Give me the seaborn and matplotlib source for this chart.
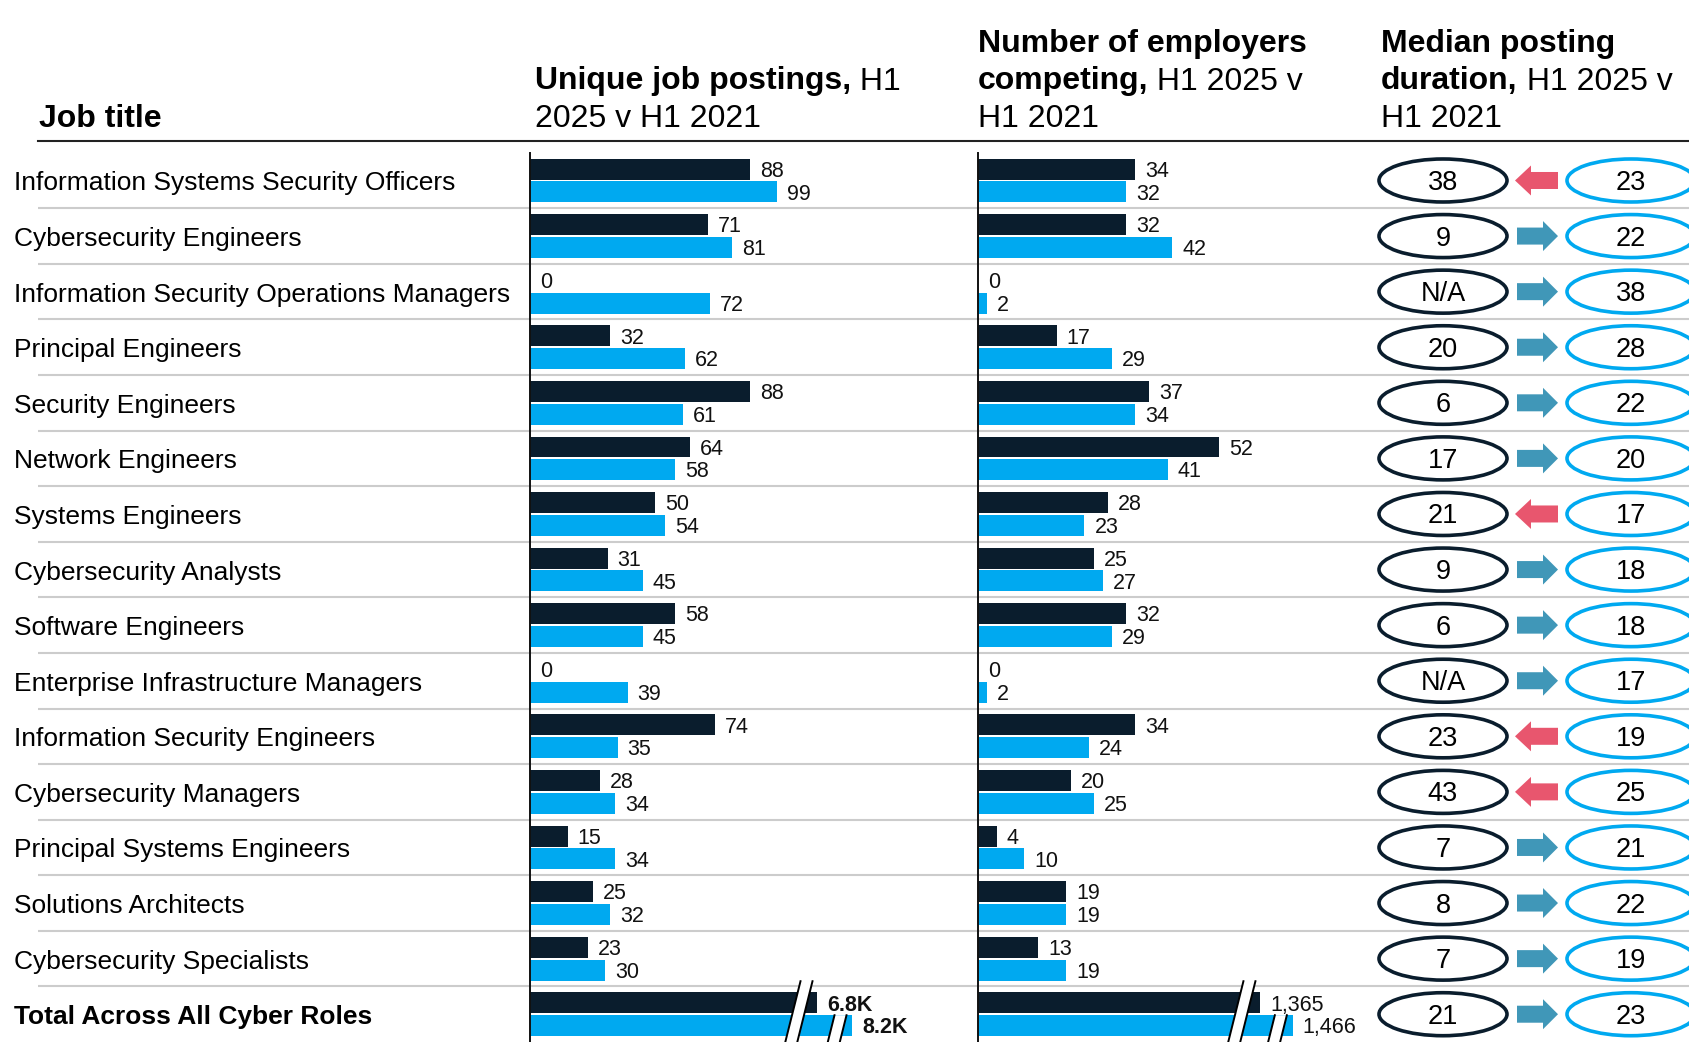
import matplotlib
matplotlib.use("Agg")
import matplotlib.pyplot as plt
import seaborn as sns
import pandas as pd
from matplotlib.patches import Ellipse, Polygon
from matplotlib.lines import Line2D

# ---------------- data ----------------
JOBS = [
    "Information Systems Security Officers",
    "Cybersecurity Engineers",
    "Information Security Operations Managers",
    "Principal Engineers",
    "Security Engineers",
    "Network Engineers",
    "Systems Engineers",
    "Cybersecurity Analysts",
    "Software Engineers",
    "Enterprise Infrastructure Managers",
    "Information Security Engineers",
    "Cybersecurity Managers",
    "Principal Systems Engineers",
    "Solutions Architects",
    "Cybersecurity Specialists",
]
TOTAL_LABEL = "Total Across All Cyber Roles"

POSTINGS_2025 = [88, 71, 0, 32, 88, 64, 50, 31, 58, 0, 74, 28, 15, 25, 23]
POSTINGS_2021 = [99, 81, 72, 62, 61, 58, 54, 45, 45, 39, 35, 34, 34, 32, 30]
EMPLOYERS_2025 = [34, 32, 0, 17, 37, 52, 28, 25, 32, 0, 34, 20, 4, 19, 13]
EMPLOYERS_2021 = [32, 42, 2, 29, 34, 41, 23, 27, 29, 2, 24, 25, 10, 19, 19]
DURATION_2025 = [38, 9, None, 20, 6, 17, 21, 9, 6, None, 23, 43, 7, 8, 7, 21]
DURATION_2021 = [23, 22, 38, 28, 22, 20, 17, 18, 18, 17, 19, 25, 21, 22, 19, 23]

TOTAL_POSTINGS = [6800, 8200]
TOTAL_POSTINGS_LABELS = ["6.8K", "8.2K"]
TOTAL_EMPLOYERS = [1365, 1466]
# length shown on the broken axis for the total row
TOTAL_POSTINGS_BROKEN = [115, 129]
TOTAL_EMPLOYERS_BROKEN = [61, 68]

YEARS = ["H1 2025", "H1 2021"]

# ---------------- style ----------------
DARK = "#0A1D2D"
BLUE = "#00A9F0"
TEAL = "#4097B8"
RED = "#E8566E"
SEP = "#CCCCCC"

plt.rcParams["font.family"] = ["Liberation Sans", "DejaVu Sans"]

W, H = 1689, 1042
fig = plt.figure(figsize=(W / 100, H / 100), dpi=100)
fig.patch.set_facecolor("white")

N = len(JOBS) + 1
ROW_TOP = 152.7
ROW_H = (H - ROW_TOP) / N
ALL_JOBS = JOBS + [TOTAL_LABEL]


def px_rect(x0, y0, x1, y1):
    return [x0 / W, 1 - y1 / H, (x1 - x0) / W, (y1 - y0) / H]


# ---------------- table background axes ----------------
tab = fig.add_axes(px_rect(0, ROW_TOP, W, H))
tab.set_xlim(0, W)
tab.set_ylim(N - 0.5, -0.5)
tab.axis("off")

tab.hlines([k - 0.5 for k in range(1, N)], 38, W, color=SEP, lw=1.5, zorder=1)

LABEL_FS = 19
for i, job in enumerate(ALL_JOBS):
    bold = job == TOTAL_LABEL
    tab.text(14, i + 10 / ROW_H, job, fontsize=LABEL_FS,
             fontweight="bold" if bold else "normal", ha="left", va="baseline",
             color="black")

# ellipses + arrows
EX_25, EX_21, EW, EH = 1443, 1631, 128, 43
for i in range(N):
    d25, d21 = DURATION_2025[i], DURATION_2021[i]
    for cx, col, val in [(EX_25, DARK, d25), (EX_21, BLUE, d21)]:
        tab.add_patch(Ellipse((cx, i), EW, EH / ROW_H, facecolor="white",
                              edgecolor=col, lw=2.6, zorder=3))
        tab.text(cx, i + 9.5 / ROW_H, "N/A" if val is None else str(val),
                 fontsize=19.5, ha="center", va="baseline", color="black", zorder=4)
    bh, hh = 8.5 / ROW_H, 15 / ROW_H
    if d25 is not None and d25 > d21:
        xt, xb, x1 = 1515, 1531, 1558
        pts = [(x1, i - bh), (xb, i - bh), (xb, i - hh), (xt, i), (xb, i + hh),
               (xb, i + bh), (x1, i + bh)]
        col = RED
    else:
        x0, xb, xt = 1517, 1543, 1558
        pts = [(x0, i - bh), (xb, i - bh), (xb, i - hh), (xt, i), (xb, i + hh),
               (xb, i + bh), (x0, i + bh)]
        col = TEAL
    tab.add_patch(Polygon(pts, closed=True, facecolor=col, edgecolor="none", zorder=3))


# ---------------- bar panels ----------------
def bar_panel(x0_px, x1_px, px_per_unit, v25, v21, broken, total_labels, total_bold):
    ax = fig.add_axes(px_rect(x0_px, ROW_TOP, x1_px, H))
    ax.patch.set_alpha(0)
    df = pd.DataFrame({
        "job": ALL_JOBS * 2,
        "year": [YEARS[0]] * N + [YEARS[1]] * N,
        "value": v25 + [broken[0]] + v21 + [broken[1]],
    })
    sns.barplot(data=df, y="job", x="value", hue="year", order=ALL_JOBS,
                hue_order=YEARS, palette=[DARK, BLUE], saturation=1, orient="h",
                width=0.82, gap=0.08, errorbar=None, linewidth=0, legend=False,
                ax=ax, zorder=2)
    ax.set_xlim(0, (x1_px - x0_px) / px_per_unit)
    ax.set_ylim(N - 0.5, -0.5)
    ax.set_xlabel("")
    ax.set_ylabel("")
    ax.set_xticks([])
    ax.set_yticks([])
    for s in ["top", "right", "bottom"]:
        ax.spines[s].set_visible(False)
    ax.spines["left"].set_color("#111111")
    ax.spines["left"].set_linewidth(1.4)

    dy = 0.205
    base = 7.7 / ROW_H
    for i in range(N - 1):
        for v, sgn in [(v25[i], -1), (v21[i], 1)]:
            ax.annotate(str(v), xy=(v, i + sgn * dy + base), xytext=(10, 0),
                        textcoords="offset pixels", ha="left", va="baseline",
                        fontsize=15.5, color="#111111")
    i = N - 1
    for v, lab, sgn in [(broken[0], total_labels[0], -1), (broken[1], total_labels[1], 1)]:
        ax.annotate(lab, xy=(v, i + sgn * dy + base), xytext=(10, 0),
                    textcoords="offset pixels", ha="left", va="baseline",
                    fontsize=15.5, color="#111111",
                    fontweight="bold" if total_bold else "normal")

    # axis-break marks on the total row
    def brk(x_end, y_top_px, y_bot_px, lead_px):
        slope = 0.25
        gap = 12
        xt = x_end - lead_px / px_per_unit
        xb = xt - slope * (y_bot_px - y_top_px) / px_per_unit
        g = gap / px_per_unit
        yt = i + y_top_px / ROW_H
        yb = i + y_bot_px / ROW_H
        ax.add_patch(Polygon([(xt - g / 2, yt), (xt + g / 2, yt), (xb + g / 2, yb),
                              (xb - g / 2, yb)], closed=True, facecolor="white",
                             edgecolor="none", zorder=5, clip_on=False))
        for s in (-1, 1):
            ax.add_line(Line2D([xt + s * g / 2, xb + s * g / 2], [yt, yb],
                               color="black", lw=1.4, zorder=6, clip_on=False))

    brk(broken[0], -33, 27, 11)
    brk(broken[1], 1, 27, 12)
    return ax


bar_panel(530, 960, 2.5, POSTINGS_2025, POSTINGS_2021, TOTAL_POSTINGS_BROKEN,
          TOTAL_POSTINGS_LABELS, True)
bar_panel(978, 1360, 4.63, EMPLOYERS_2025, EMPLOYERS_2021, TOTAL_EMPLOYERS_BROKEN,
          [f"{v:,}" for v in TOTAL_EMPLOYERS], False)

# ---------------- header ----------------
renderer = fig.canvas.get_renderer()
HFS = 23


def rich_line(x_px, y_px, parts):
    x = x_px
    for txt, weight in parts:
        t = fig.text(x / W, 1 - y_px / H, txt, fontsize=HFS, fontweight=weight,
                     ha="left", va="baseline", color="black")
        x += t.get_window_extent(renderer).width


B1, B2, B3 = 52, 89.5, 127
rich_line(39, B3, [("Job title", "bold")])
rich_line(535, B2, [("Unique job postings,", "bold"), (" H1", "normal")])
rich_line(535, B3, [("2025 v H1 2021", "normal")])
rich_line(978, B1, [("Number of employers", "bold")])
rich_line(978, B2, [("competing,", "bold"), (" H1 2025 v", "normal")])
rich_line(978, B3, [("H1 2021", "normal")])
rich_line(1381, B1, [("Median posting", "bold")])
rich_line(1381, B2, [("duration,", "bold"), (" H1 2025 v", "normal")])
rich_line(1381, B3, [("H1 2021", "normal")])

fig.add_artist(Line2D([38 / W, 1], [1 - 140.5 / H, 1 - 140.5 / H], color="#222222",
                      lw=1.5, transform=fig.transFigure))

fig.savefig("out.png", dpi=100, facecolor="white")
